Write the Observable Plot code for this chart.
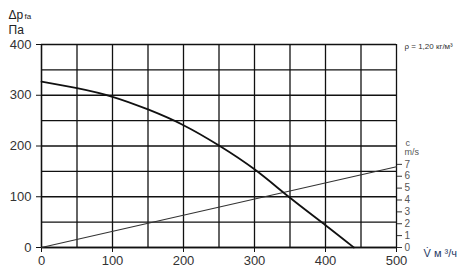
<!DOCTYPE html>
<html>
<head>
<meta charset="utf-8">
<script src="https://cdn.jsdelivr.net/npm/d3@7"></script>
<script src="https://cdn.jsdelivr.net/npm/@observablehq/plot@0.6"></script>
<style>
  html, body { margin: 0; padding: 0; background: #fff; }
  #chart svg { display: block; }
</style>
</head>
<body>
<div id="chart"></div>
<script>
// Fan curve: static pressure Δp_fa (Pa) vs air flow V (m³/h)
const flowX = [0, 50, 100, 150, 200, 250, 300, 350, 400, 440];
const pressure = [327, 314, 297, 272, 241, 201, 154, 98, 44, 0];

// Outlet air velocity c (m/s) vs flow
const velFlow = [0, 500];
const velocity = [0, 6.8];

// Axis ticks
const pressureTicks = [0, 100, 200, 300, 400];
const flowTicks = [0, 100, 200, 300, 400, 500];
const gridPressure = [0, 50, 100, 150, 200, 250, 300, 350, 400];
const gridFlow = [0, 50, 100, 150, 200, 250, 300, 350, 400, 450, 500];
const velocityTicks = [0, 1, 2, 3, 4, 5, 6, 7];
const velocityToPa = 23.4; // right-axis scale: 7 m/s aligns with ~164 Pa

const curve = flowX.map((x, i) => ({x, y: pressure[i]}));
const vel = velFlow.map((x, i) => ({x, y: velocity[i] * velocityToPa}));

const font = "'Liberation Sans', Arial, sans-serif";

const chart = Plot.plot({
  width: 463,
  height: 269,
  marginLeft: 41,
  marginRight: 67,
  marginTop: 44,
  marginBottom: 22,
  style: {fontFamily: font, fontSize: "13px", color: "#333", background: "#fff"},
  x: {domain: [0, 500]},
  y: {domain: [0, 400]},
  marks: [
    Plot.gridX(gridFlow, {stroke: "#111", strokeOpacity: 1, strokeWidth: 1.3}),
    Plot.gridY(gridPressure, {stroke: "#111", strokeOpacity: 1, strokeWidth: 1.3}),
    Plot.ruleX([0], {stroke: "#111", strokeWidth: 1.3}),
    Plot.ruleY([0], {stroke: "#111", strokeWidth: 1.3}),
    Plot.axisY(pressureTicks, {anchor: "left", tickSize: 5, tickPadding: 5, label: null, fontSize: 13, fill: "#333", stroke: "#111"}),
    Plot.axisX(flowTicks, {anchor: "bottom", tickSize: 5, tickPadding: 3, label: null, fontSize: 13, fill: "#333", stroke: "#111"}),
    Plot.axisY(velocityTicks.map(d => d * velocityToPa), {
      anchor: "right", tickSize: 5, tickPadding: 3, label: null, fontSize: 10,
      fill: "#555", stroke: "#333",
      tickFormat: d => String(Math.round(d / velocityToPa))
    }),
    Plot.line(vel, {x: "x", y: "y", stroke: "#333", strokeWidth: 1.1}),
    Plot.line(curve, {x: "x", y: "y", stroke: "#111", strokeWidth: 1.8, curve: "natural"}),
    // annotations
    Plot.text(["Δp"], {frameAnchor: "top-left", dx: -33, dy: -34, textAnchor: "start", fontSize: 12, fill: "#222"}),
    Plot.text(["fa"], {frameAnchor: "top-left", dx: -17, dy: -31, textAnchor: "start", fontSize: 8, fill: "#222"}),
    Plot.text(["Па"], {frameAnchor: "top-left", dx: -33, dy: -19, textAnchor: "start", fontSize: 12, fill: "#222"}),
    Plot.text(["ρ = 1,20 кг/м³"], {frameAnchor: "top-right", dx: 8, dy: -1, textAnchor: "start", fontSize: 8, fill: "#333"}),
    Plot.text(["c"], {frameAnchor: "top-right", dx: 9, dy: 95, textAnchor: "start", fontSize: 9, fill: "#555"}),
    Plot.text(["m/s"], {frameAnchor: "top-right", dx: 8, dy: 104, textAnchor: "start", fontSize: 9, fill: "#555"}),
    Plot.text(["V̇ м ³/ч"], {frameAnchor: "bottom-right", dx: 27, dy: 9, textAnchor: "start", fontSize: 11, fill: "#263a66"})
  ]
});

document.getElementById("chart").appendChild(chart);
</script>
</body>
</html>
